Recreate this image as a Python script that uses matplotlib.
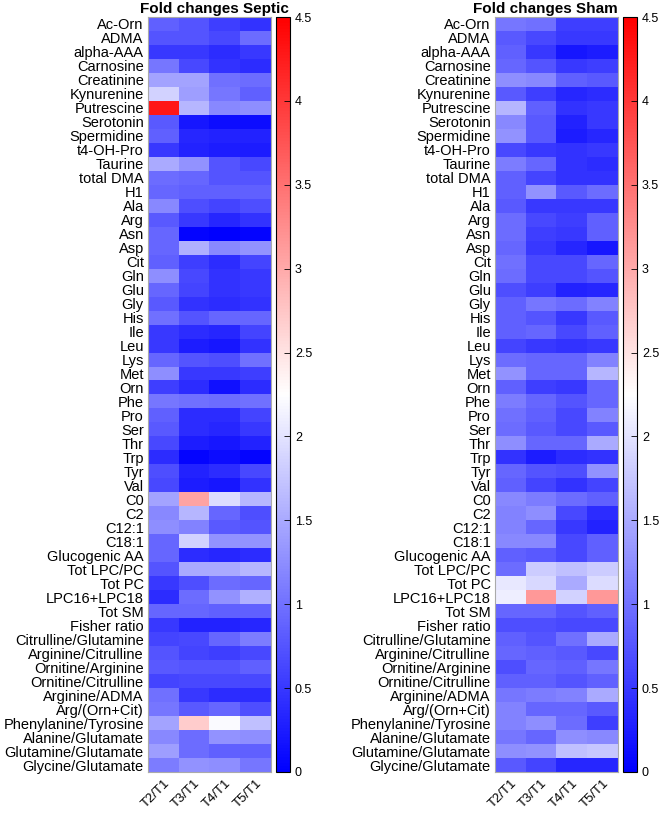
import numpy as np
import matplotlib
matplotlib.use('Agg')
import matplotlib.pyplot as plt
from matplotlib.colors import LinearSegmentedColormap

plt.rcParams['font.family'] = ['Liberation Sans', 'DejaVu Sans']

# 行标签
metabolites = ['Ac-Orn', 'ADMA', 'alpha-AAA', 'Carnosine', 'Creatinine', 'Kynurenine',
               'Putrescine', 'Serotonin', 'Spermidine', 't4-OH-Pro', 'Taurine', 'total DMA',
               'H1', 'Ala', 'Arg', 'Asn', 'Asp', 'Cit', 'Gln', 'Glu', 'Gly', 'His', 'Ile',
               'Leu', 'Lys', 'Met', 'Orn', 'Phe', 'Pro', 'Ser', 'Thr', 'Trp', 'Tyr', 'Val',
               'C0', 'C2', 'C12:1', 'C18:1', 'Glucogenic AA', 'Tot LPC/PC', 'Tot PC',
               'LPC16+LPC18', 'Tot SM', 'Fisher ratio', 'Citrulline/Glutamine',
               'Arginine/Citrulline', 'Ornitine/Arginine', 'Ornitine/Citrulline',
               'Arginine/ADMA', 'Arg/(Orn+Cit)', 'Phenylanine/Tyrosine', 'Alanine/Glutamate',
               'Glutamine/Glutamate', 'Glycine/Glutamate']
timepoints = ['T2/T1', 'T3/T1', 'T4/T1', 'T5/T1']

# 脓毒症组 fold change
septic = [
    [0.85, 0.75, 0.55, 0.45], [0.75, 0.75, 0.65, 0.95], [0.5, 0.5, 0.4, 0.5],
    [1.05, 0.65, 0.45, 0.4], [1.45, 1.45, 1.0, 0.95], [1.85, 1.4, 1.05, 0.85],
    [4.3, 1.6, 1.2, 1.25], [0.8, 0.2, 0.12, 0.12], [0.85, 0.35, 0.3, 0.3],
    [0.5, 0.3, 0.25, 0.25], [1.5, 1.3, 0.75, 0.65], [0.95, 0.9, 0.75, 0.75],
    [0.9, 0.85, 0.85, 0.85], [1.2, 0.7, 0.6, 0.7], [0.8, 0.5, 0.35, 0.45],
    [0.9, 0.05, 0.0, 0.05], [0.9, 1.55, 1.2, 1.3], [0.85, 0.55, 0.4, 0.6],
    [1.25, 0.65, 0.45, 0.5], [0.9, 0.6, 0.45, 0.5], [0.8, 0.45, 0.4, 0.45],
    [1.0, 0.75, 0.9, 0.9], [0.5, 0.4, 0.35, 0.6], [0.5, 0.25, 0.2, 0.45],
    [0.9, 0.75, 0.7, 1.0], [1.25, 0.5, 0.5, 0.55], [0.55, 0.4, 0.15, 0.4],
    [1.05, 1.0, 0.95, 1.0], [0.85, 0.4, 0.4, 0.6], [0.8, 0.4, 0.35, 0.5],
    [0.65, 0.25, 0.2, 0.3], [0.4, 0.05, 0.12, 0.05], [0.7, 0.3, 0.4, 0.65],
    [0.65, 0.25, 0.2, 0.45], [1.45, 3.05, 1.95, 1.6], [1.2, 1.6, 0.9, 0.7],
    [1.25, 1.15, 0.8, 0.75], [0.9, 1.85, 1.3, 1.3], [0.9, 0.4, 0.35, 0.4],
    [0.75, 1.5, 1.5, 1.6], [0.5, 0.7, 0.95, 0.9], [0.4, 0.95, 1.3, 1.55],
    [0.9, 0.9, 0.85, 0.85], [0.5, 0.3, 0.3, 0.35], [0.6, 0.65, 0.9, 1.1],
    [0.75, 0.6, 0.55, 0.65], [0.8, 0.75, 0.75, 0.85], [0.6, 0.65, 0.65, 0.65],
    [1.0, 0.5, 0.4, 0.4], [1.05, 0.8, 0.9, 0.7], [1.45, 2.7, 2.2, 1.7],
    [1.2, 0.95, 1.3, 1.25], [1.4, 0.95, 0.85, 0.85], [1.1, 1.3, 1.25, 1.05],
]

# 假手术组 fold change
sham = [
    [1.05, 1.0, 0.55, 0.55], [0.8, 0.65, 0.5, 0.5], [0.85, 0.5, 0.2, 0.25],
    [0.9, 0.75, 0.5, 0.55], [1.25, 1.2, 0.85, 0.8], [0.8, 0.55, 0.35, 0.4],
    [1.6, 0.85, 0.45, 0.5], [1.2, 0.8, 0.3, 0.5], [1.3, 0.8, 0.25, 0.35],
    [0.65, 0.5, 0.45, 0.5], [1.1, 0.9, 0.45, 0.4], [0.85, 0.6, 0.45, 0.45],
    [0.85, 1.3, 0.8, 0.95], [0.8, 0.5, 0.5, 0.5], [0.95, 0.65, 0.55, 0.85],
    [0.95, 0.55, 0.5, 0.85], [0.9, 0.5, 0.35, 0.2], [1.0, 0.65, 0.65, 0.9],
    [0.95, 0.65, 0.65, 0.75], [0.7, 0.55, 0.3, 0.35], [0.85, 1.05, 0.95, 1.15],
    [0.85, 0.75, 0.5, 0.8], [0.85, 0.9, 0.65, 0.85], [0.6, 0.5, 0.45, 0.5],
    [0.95, 0.9, 0.9, 1.15], [1.3, 0.9, 0.9, 1.6], [0.85, 0.55, 0.5, 0.9],
    [1.1, 0.9, 0.75, 0.9], [1.0, 0.85, 0.65, 1.15], [0.95, 0.8, 0.65, 0.8],
    [1.25, 0.9, 0.9, 1.5], [0.45, 0.25, 0.4, 0.45], [0.9, 0.75, 0.7, 1.3],
    [0.85, 0.6, 0.45, 0.6], [1.2, 1.1, 0.95, 0.85], [1.15, 1.25, 0.65, 0.4],
    [1.15, 0.9, 0.5, 0.3], [1.2, 1.2, 0.65, 0.85], [0.85, 0.8, 0.65, 0.85],
    [0.95, 1.8, 1.7, 1.8], [2.05, 1.9, 1.5, 1.95], [2.1, 3.15, 1.85, 3.15],
    [0.9, 0.9, 0.75, 0.85], [0.7, 0.7, 0.65, 0.65], [0.85, 0.75, 1.0, 1.5],
    [0.9, 0.85, 0.8, 0.65], [0.7, 0.9, 0.85, 1.05], [0.85, 0.85, 0.75, 0.85],
    [1.05, 1.1, 1.15, 1.5], [1.15, 0.9, 0.9, 0.8], [1.15, 1.25, 0.95, 0.55],
    [1.05, 0.9, 1.25, 1.2], [1.25, 1.3, 1.7, 1.75], [0.8, 0.6, 0.35, 0.35],
]

cmap = LinearSegmentedColormap.from_list('bwr_lin', ['#0000ff', '#ffffff', '#ff0000'])
vmin, vmax = 0, 4.5

W, H = 660, 814
fig = plt.figure(figsize=(W / 100, H / 100), dpi=100)

label_font = ['Liberation Sans Narrow', 'Liberation Sans', 'DejaVu Sans']


def draw_panel(data, title, hx, cx, title_x):
    # 坐标以像素计，转换成figure比例
    top, bottom = 17, 772
    ax = fig.add_axes([hx / W, (H - bottom) / H, 123 / W, (bottom - top) / H])
    cax = fig.add_axes([cx / W, (H - bottom) / H, 14 / W, (bottom - top) / H])
    im = ax.imshow(np.array(data), cmap=cmap, vmin=vmin, vmax=vmax,
                   aspect='auto', interpolation='nearest')
    ax.set_yticks(range(len(metabolites)))
    ax.set_yticklabels(metabolites, fontsize=10.5, family=label_font)
    ax.set_xticks(range(len(timepoints)))
    ax.set_xticklabels(timepoints, fontsize=9.5, rotation=45, ha='right',
                       rotation_mode='anchor')
    ax.tick_params(length=0, pad=3)
    ax.tick_params(axis='x', pad=4)
    for s in ax.spines.values():
        s.set_color('#aaaaaa')
        s.set_linewidth(0.8)
    ax.set_title(title, fontsize=11, fontweight='bold', pad=3, x=title_x)

    cb = fig.colorbar(im, cax=cax)
    cb.set_ticks(np.arange(0, 4.51, 0.5))
    cb.set_ticklabels(['0', '0.5', '1', '1.5', '2', '2.5', '3', '3.5', '4', '4.5'])
    cax.tick_params(labelsize=9, direction='in', length=4, width=0.6)
    cb.outline.set_linewidth(0.8)


draw_panel(septic, 'Fold changes Septic', 148, 276, 0.54)
draw_panel(sham, 'Fold changes Sham', 495, 623, 0.41)

fig.savefig('out.png', dpi=100)
